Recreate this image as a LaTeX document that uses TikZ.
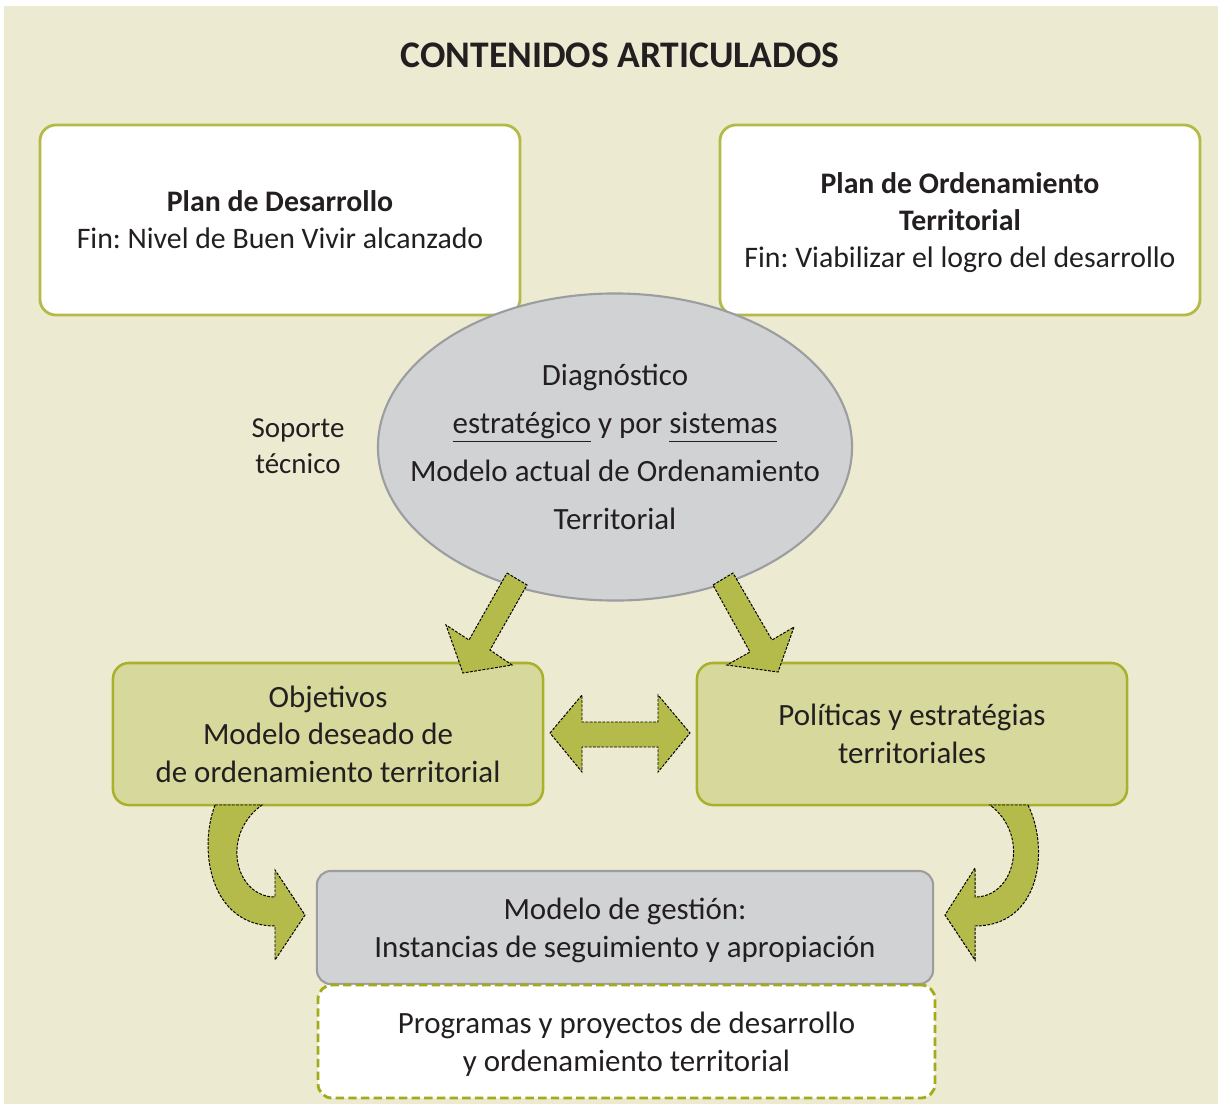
\documentclass[tikz,border=0pt]{standalone}
\usepackage{fontspec}
\setmainfont{Carlito}
\usetikzlibrary{shapes.geometric}
\definecolor{bg}{HTML}{ECEBD1}
\definecolor{ink}{HTML}{231F20}
\definecolor{topline}{HTML}{B3BA48}
\definecolor{greenfill}{HTML}{D6D99B}
\definecolor{greenline}{HTML}{A8B02C}
\definecolor{arrowfill}{HTML}{B4BB4A}
\definecolor{grayfill}{HTML}{D1D2D4}
\definecolor{grayline}{HTML}{9C9DA0}
\definecolor{dashline}{HTML}{A3AB1C}
\frenchspacing
\tikzset{
  txt/.style={font=\fontsize{22}{26.7}\selectfont, text=ink, align=center},
  topbox/.style={txt, font=\fontsize{21.2}{26.3}\selectfont, draw=topline, line width=2pt, fill=white,
    rounded corners=0.4cm, minimum width=12cm, minimum height=4.75cm, inner sep=0pt, text depth=0pt},
  greenbox/.style={txt, draw=greenline, line width=1.8pt, fill=greenfill,
    rounded corners=0.4cm, minimum width=10.75cm, minimum height=3.55cm, inner sep=0pt, text depth=0pt},
  graybox/.style={txt, draw=grayline, line width=1.5pt, fill=grayfill,
    rounded corners=0.35cm, minimum width=15.4cm, minimum height=2.825cm, inner sep=0pt, text depth=0pt},
  dashbox/.style={txt, draw=dashline, line width=2pt, fill=white, dash pattern=on 6pt off 3pt,
    rounded corners=0.35cm, minimum width=15.42cm, minimum height=2.825cm, inner sep=0pt, text depth=0pt},
  blockarrow/.style={fill=arrowfill, draw=black, line width=0.7pt, dash pattern=on 2pt off 1pt, line join=miter},
}
\begin{document}
\begin{tikzpicture}[x=0.025cm,y=-0.025cm]
\useasboundingbox (0,0) rectangle (1218,1104);
\fill[white] (0,0) rectangle (1218,1104);
\fill[bg] (4,6) rectangle (1218,1104);

\node[txt, font=\fontsize{26.7}{30}\selectfont\bfseries] (title) at (620,55) {CONTENIDOS ARTICULADOS};

\node[topbox] (pd) at (280,220) {\textbf{Plan de Desarrollo}\\Fin: Nivel de Buen Vivir alcanzado};
\node[topbox] (pot) at (960,220) {\textbf{Plan de Ordenamiento}\\\textbf{Territorial}\\Fin: Viabilizar el logro del desarrollo};

\node[ellipse, draw=grayline, fill=grayfill, line width=1.5pt, minimum width=11.85cm, minimum height=7.675cm, inner sep=0pt] (diag) at (615,447) {};
\node[txt, font=\fontsize{22}{34.1}\selectfont] (diagtext) at (diag.center) {Diagnóstico\\\underline{estratégico} y por \underline{sistemas\vphantom{g}}\\Modelo actual de Ordenamiento\\Territorial};

\node[txt, font=\fontsize{20.6}{25.6}\selectfont] (soporte) at (298,446) {Soporte\\técnico};

\node[greenbox] (obj) at (328,734) {Objetivos\\Modelo deseado de\\de ordenamiento territorial};
\node[greenbox] (pol) at (912,734) {Políticas y estratégias\\territoriales};

% down arrows
\draw[blockarrow] (507,573) -- (527,585) -- (490,650) -- (512,665) -- (463,673) -- (446,625) -- (469,640) -- cycle;
\draw[blockarrow] (713,585) -- (733,573) -- (772,640) -- (794,627) -- (778,672) -- (727,665) -- (750,652) -- cycle;

% double arrow
\draw[blockarrow] (550,733) -- (582,695) -- (582,722) -- (658,722) -- (658,695) -- (690,733) -- (658,772) -- (658,747) -- (582,747) -- (582,772) -- cycle;

% curved arrows
\draw[blockarrow] (215,805) .. controls (198,850) and (210,926) .. (275,926) -- (275,960) -- (305,915) -- (275,870) -- (275,897) .. controls (235,897) and (220,835) .. (262,805) -- cycle;
\draw[blockarrow] (1028,805) .. controls (1050,850) and (1040,926) .. (975,926) -- (975,960) -- (945,915) -- (975,868) -- (975,897) .. controls (1015,897) and (1030,835) .. (990,805) -- cycle;

\node[graybox] (gestion) at (625,927.5) {Modelo de gestión:\\Instancias de seguimiento y apropiación};
\node[dashbox] (prog) at (626.5,1041.5) {Programas y proyectos de desarrollo\\y ordenamiento territorial};
\end{tikzpicture}
\end{document}
